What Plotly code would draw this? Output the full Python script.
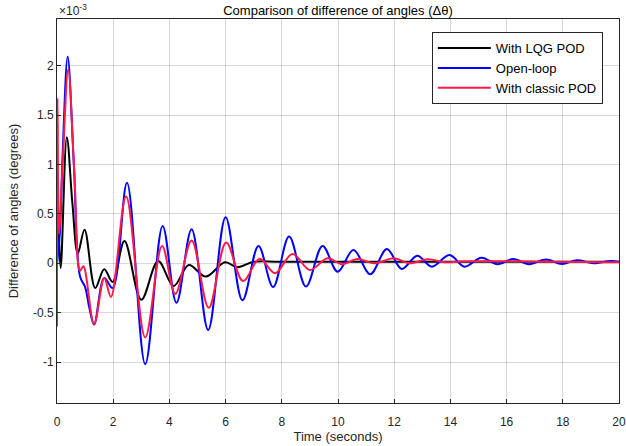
import plotly.graph_objects as go

# Values in units of 1e-3 degrees (axis shows x10^-3)
t_lqg = [0, 0.05, 0.13, 0.35, 0.55, 0.74, 0.98, 1.36, 1.68, 1.98, 2.4, 3.0, 3.6, 4.15,
         4.69, 5.29, 5.98, 6.42, 7.0, 8.0, 20]
v_lqg = [0, 0.35, -0.05, 1.275, 0.6, 0.1, 0.34, -0.25, -0.06, -0.19, 0.225, -0.37, 0.023,
         -0.23, -0.017, -0.135, 0.01, -0.04, 0.015, 0.015, 0.015]

t_open = [0, 0.1, 0.2, 0.38, 0.6, 0.82, 1.0, 1.15, 1.32, 1.68, 1.98, 2.49, 3.14, 3.76,
          4.25, 4.79, 5.38, 6.0, 6.6, 7.17, 7.69, 8.26, 8.86, 9.45, 9.99, 10.55, 11.15,
          11.74, 12.27, 12.82, 13.34, 13.97, 14.5, 15.1, 15.67, 16.24, 16.8, 17.4, 17.97,
          18.5, 19.1, 19.7, 20]
v_open = [0, 0.3, 1.1, 2.09, 1.0, -0.135, -0.24, -0.45, -0.62, -0.15, -0.25, 0.815,
          -1.02, 0.378, -0.4, 0.345, -0.675, 0.465, -0.375, 0.175, -0.24, 0.27, -0.235,
          0.175, -0.085, 0.135, -0.11, 0.145, -0.058, 0.077, -0.034, 0.084, -0.034, 0.057,
          -0.01, 0.043, -0.01, 0.037, -0.007, 0.03, 0.0, 0.023, 0.015]

t_classic = [0, 0.02, 0.07, 0.2, 0.4, 0.62, 0.82, 0.94, 1.32, 1.68, 1.92, 2.46, 3.14,
             3.74, 4.21, 4.79, 5.4, 6.02, 6.62, 7.21, 7.76, 8.38, 9.0, 9.63, 10.14, 10.7,
             11.3, 12.0, 12.55, 13.2, 13.8, 14.5, 20]
v_classic = [-0.64, 1.67, 0.3, 1.0, 1.96, 0.9, -0.075, -0.03, -0.615, -0.15, -0.34,
             0.675, -0.75, 0.175, -0.31, 0.23, -0.45, 0.21, -0.18, 0.045, -0.1, 0.095,
             -0.068, 0.05, -0.01, 0.043, 0.0, 0.05, 0.0, 0.04, 0.01, 0.02, 0.01]

x_ticks = list(range(0, 21, 2))
y_ticks = [-1, -0.5, 0, 0.5, 1, 1.5, 2]
y_tick_labels = ["-1", "-0.5", "0", "0.5", "1", "1.5", "2"]

FONT = "Liberation Sans, Arial, sans-serif"
AX = "#262626"
GRID = "rgba(38,38,38,0.18)"

fig = go.Figure()
fig.add_trace(go.Scatter(x=t_lqg, y=v_lqg, mode="lines", name="With LQG POD",
                         line=dict(color="#000000", width=2, shape="spline", smoothing=1.0)))
fig.add_trace(go.Scatter(x=t_open, y=v_open, mode="lines", name="Open-loop",
                         line=dict(color="#0000ff", width=2, shape="spline", smoothing=1.0)))
fig.add_trace(go.Scatter(x=t_classic, y=v_classic, mode="lines", name="With classic POD",
                         line=dict(color="#ff1a4a", width=2, shape="spline", smoothing=1.0)))

fig.update_layout(
    width=626, height=446,
    margin=dict(l=57, r=7, t=19, b=43, autoexpand=False),
    paper_bgcolor="white", plot_bgcolor="white",
    font=dict(family=FONT, size=13, color=AX),
    title=dict(text="Comparison of difference of angles (Δθ)", x=(57 + 281) / 626,
               xanchor="center", y=1 - 10 / 446, yanchor="middle",
               font=dict(size=13, color="#000000")),
    showlegend=True,
    legend=dict(x=0.667, y=0.966, xanchor="left", yanchor="top", itemwidth=53,
                bgcolor="white", bordercolor=AX, borderwidth=1,
                font=dict(size=13, color="#000000"), tracegroupgap=0),
)
fig.update_xaxes(range=[0, 20], tickvals=x_ticks, ticks="inside", ticklen=4,
                 tickcolor=AX, showline=True, linecolor=AX, linewidth=1, mirror=True,
                 showgrid=True, gridcolor=GRID, zeroline=False, automargin=False,
                 tickfont=dict(size=12, color=AX), ticklabelstandoff=8,
                 title=dict(text="Time (seconds)", font=dict(size=13, color=AX), standoff=2))
fig.update_yaxes(range=[-1.414, 2.472], tickvals=y_ticks, ticktext=y_tick_labels,
                 ticks="inside", ticklen=4, tickcolor=AX, showline=True, linecolor=AX,
                 linewidth=1, mirror=True, showgrid=True, gridcolor=GRID, zeroline=False,
                 automargin=False, tickfont=dict(size=12, color=AX),
                 title=dict(text="Difference of angles (degrees)", font=dict(size=13, color=AX),
                            standoff=11))
fig.add_annotation(text="×10<sup>-3</sup>", xref="paper", yref="paper", x=0, y=1,
                   xanchor="left", yanchor="bottom", showarrow=False, yshift=-1,
                   font=dict(size=12, color=AX))

fig.write_html("out.html", config={"displayModeBar": False},
               post_script="document.body.style.margin='0';document.body.style.overflow='hidden';")
